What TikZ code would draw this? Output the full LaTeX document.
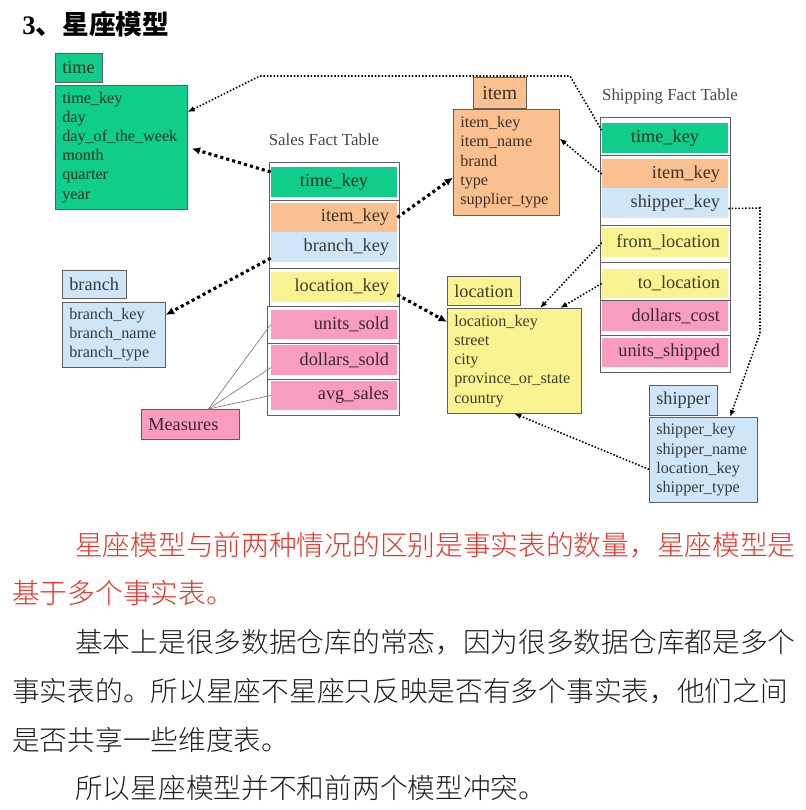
\documentclass[tikz,border=0pt]{standalone}
\usepackage{fontspec}
\setmainfont{Liberation Serif}
\newfontfamily\cjk{Noto Sans CJK SC}
\newfontfamily\cjklight{Noto Sans CJK SC Light}
\usetikzlibrary{arrows.meta}

\definecolor{cgreen}{RGB}{16,206,138}
\definecolor{corange}{RGB}{250,192,143}
\definecolor{cblue}{RGB}{206,230,248}
\definecolor{cyellow}{RGB}{250,243,146}
\definecolor{cpink}{RGB}{248,156,192}
\definecolor{cred}{RGB}{230,52,40}
\definecolor{cframe}{RGB}{95,95,95}

\tikzset{
  frame/.style={draw=cframe, line width=0.7pt, fill=white},
  row/.style={fill=#1, text=#1!25!black, minimum width=3.15cm, minimum height=0.74cm,
    inner sep=0pt, text width=2.75cm, align=right, font=\fontsize{13}{15}\selectfont},
  hdr/.style={draw=cframe, fill=#1, text=#1!25!black, anchor=north west, minimum height=0.73cm,
    inner xsep=5pt, inner ysep=0pt, font=\fontsize{13}{15}\selectfont},
  body/.style={draw=cframe, fill=#1, text=#1!25!black, anchor=north west, inner xsep=5pt,
    inner ysep=0pt, align=left, font=\fontsize{11.5}{13.65}\selectfont},
  fkbold/.style={line width=2.2pt, dash pattern=on 2.2pt off 2.2pt, -{Latex[length=6pt,width=5.5pt]}},
  fkthin/.style={line width=1.1pt, dash pattern=on 1.1pt off 1.3pt, -{Latex[length=5pt,width=4pt]}},
  measline/.style={draw=gray, line width=0.5pt},
  facttitle/.style={text=black!72, inner sep=0pt, font=\fontsize{12}{14}\selectfont},
  cjkline/.style={anchor=west, inner sep=0pt, font=\cjklight\fontsize{19.7}{20}\selectfont},
}

\begin{document}
\begin{tikzpicture}[x=0.025cm, y=-0.025cm]
    \path[fill=white, use as bounding box] (0,0) rectangle (806,810);

    % --- title ---
    \node[anchor=west, inner sep=0pt, font=\bfseries\fontsize{19}{20}\selectfont] (ttl) at (22,24) {3\cjk 、星座模型};

    % --- dimension tables ---
    \node[hdr=cgreen] (thdr) at (55,53) {time};
    \node[body=cgreen, text width=2.95cm, minimum height=3.1cm] (tbody) at (55,85)
      {time\_key\\day\\day\_of\_the\_week\\month\\quarter\\year};

    \node[hdr=corange, minimum width=1.325cm, minimum height=0.775cm, font=\fontsize{14}{16}\selectfont] (ihdr) at (473,77) {item};
    \node[body=corange, text width=2.3cm, minimum height=2.65cm] (ibody) at (453,109)
      {item\_key\\item\_name\\brand\\type\\supplier\_type};

    \node[hdr=cblue, minimum height=0.7cm] (bhdr) at (62,270) {branch};
    \node[body=cblue, text width=2.225cm, minimum height=1.625cm] (bbody) at (62,302)
      {branch\_key\\branch\_name\\branch\_type};

    \node[hdr=cyellow] (lhdr) at (447,276) {location};
    \node[body=cyellow, text width=3.0cm, minimum height=2.625cm] (lbody) at (447,308)
      {location\_key\\street\\city\\province\_or\_state\\country};

    \node[hdr=cblue, minimum height=0.75cm] (shhdr) at (649,385) {shipper};
    \node[body=cblue, text width=2.35cm, minimum height=2.125cm] (shbody) at (649,417)
      {shipper\_key\\shipper\_name\\location\_key\\shipper\_type};

    % --- Sales Fact Table ---
    \node[facttitle] (salesttl) at (324,140) {Sales Fact Table};
    \draw[frame] (269,162) rectangle (399,200);
    \draw[frame] (269,200) rectangle (399,268);
    \draw[frame] (269,268) rectangle (399,306);
    \draw[frame] (267,306) rectangle (399,343);
    \draw[frame] (267,343) rectangle (399,379);
    \draw[frame] (267,379) rectangle (399,415);
    \node[row=cgreen, align=center] (s_time) at (334,182) {time\_key};
    \node[row=corange] (s_item) at (334,217.5) {item\_key};
    \node[row=cblue] (s_branch) at (334,247) {branch\_key};
    \node[row=cyellow] (s_loc) at (334,287) {location\_key};
    \node[row=cpink] (s_units) at (334,324.5) {units\_sold};
    \node[row=cpink] (s_dollars) at (334,360) {dollars\_sold};
    \node[row=cpink] (s_avg) at (334,395.5) {avg\_sales};

    % --- Shipping Fact Table ---
    \node[facttitle] (shipttl) at (670,96) {Shipping Fact Table};
    \draw[frame] (600,117) rectangle (730,155);
    \draw[frame] (600,155) rectangle (730,225);
    \draw[frame] (600,225) rectangle (730,262);
    \draw[frame] (600,262) rectangle (730,300);
    \draw[frame] (600,300) rectangle (730,335);
    \draw[frame] (600,335) rectangle (730,372);
    \node[row=cgreen, align=center] (p_time) at (665,138) {time\_key};
    \node[row=corange] (p_item) at (665,174) {item\_key};
    \node[row=cblue] (p_shipper) at (665,203) {shipper\_key};
    \node[row=cyellow] (p_from) at (665,242.5) {from\_location};
    \node[row=cyellow] (p_to) at (665,283.5) {to\_location};
    \node[row=cpink] (p_cost) at (665,316) {dollars\_cost};
    \node[row=cpink] (p_units) at (665,352.5) {units\_shipped};

    % --- measures ---
    \node[draw=cframe, fill=cpink, text=cpink!25!black, anchor=north west, minimum width=2.45cm,
      minimum height=0.75cm, inner xsep=5pt, inner ysep=0pt, text width=2.1cm, align=left,
      font=\fontsize{13}{15}\selectfont] (meas) at (141,409) {Measures};
    \draw[measline] (meas.40) -- (s_units.west);
    \draw[measline] (meas.40) -- (s_dollars.187);
    \draw[measline] (meas.40) -- (s_avg.west);

    % --- foreign keys of the sales table ---
    \draw[fkbold, shorten >=3pt] (s_time.171) -- (tbody.east);
    \draw[fkbold] (s_item.east) -- (ibody.196);
    \draw[fkbold] (s_branch.190) -- (bbody.21);
    \draw[fkbold] (s_loc.353) -- (lbody.150);

    % --- foreign keys of the shipping table ---
    \draw[fkthin] (p_time.173) -- (570,76) -- (260,76) -- (tbody.28);
    \draw[fkthin] (p_item.west) -- (ibody.24);
    \draw[fkthin] (p_from.west) -- (lbody.64);
    \draw[fkthin] (p_to.west) -- (lbody.49);
    \draw[fkthin] (p_shipper.355) -- (760,208) -- (760,333) -- (shbody.58);
    \draw[fkthin] (shbody.190) -- (lbody.south);

    % --- text below ---
    \node[cjkline, text=cred] (par1a) at (75,545) {星座模型与前两种情况的区别是事实表的数量，星座模型是};
    \node[cjkline, text=cred] (par1b) at (12,593) {基于多个事实表。};
    \node[cjkline, text=black!88] (par2a) at (75,642) {基本上是很多数据仓库的常态，因为很多数据仓库都是多个};
    \node[cjkline, text=black!88] (par2b) at (12,691) {事实表的。所以星座不星座只反映是否有多个事实表，他们之间};
    \node[cjkline, text=black!88] (par2c) at (12,740) {是否共享一些维度表。};
    \node[cjkline, text=black!88] (par3) at (75,788) {所以星座模型并不和前两个模型冲突。};
\end{tikzpicture}
\end{document}
